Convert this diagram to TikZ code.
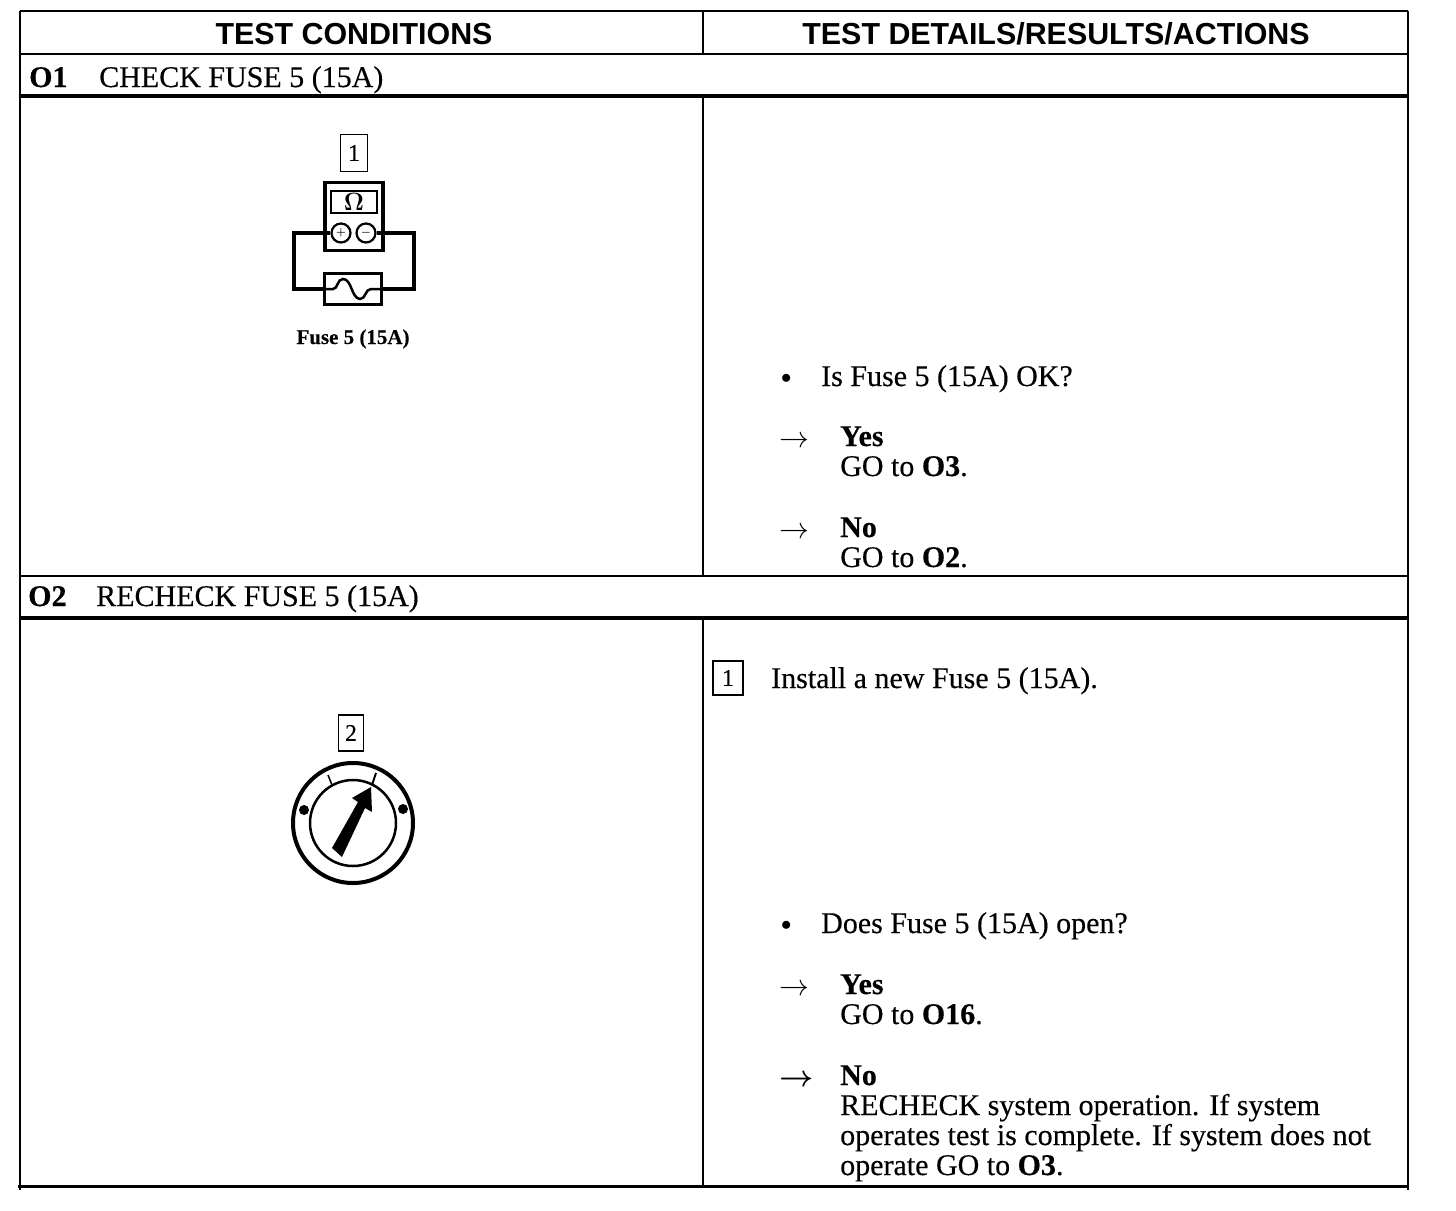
\documentclass[tikz,border=0pt]{standalone}
\usepackage{fontspec}
\setmainfont{Liberation Serif}[FakeBold = 0.3]
\newfontfamily\headfont{Liberation Sans}
\newcommand{\longpointer}{\scalebox{1.2}{$\rightarrow$}}
\tikzset{
	rule/.style = {line width = 2.5 pt},
	head/.style = {font = \headfont\bfseries\fontsize{30.4}{31}\selectfont, inner sep = 0 pt, anchor = base},
	title/.style = {font = \fontsize{30}{30}\selectfont, inner sep = 0 pt, anchor = base west},
	body/.style = {font = \fontsize{30}{30}\selectfont, inner sep = 0 pt, anchor = base west},
	pointer/.style = {font = \fontsize{34}{34}\selectfont, inner sep = 0 pt, anchor = base west},
	boldpointer/.style = {font = \fontsize{34}{34}\selectfont\boldmath, inner sep = 0 pt, anchor = base west},
	spot/.style = {font = \fontsize{20}{20}\selectfont, inner sep = 0 pt, anchor = base west},
	tag/.style = {draw, line width = 1.8 pt, inner sep = 0 pt, font = \fontsize{24}{24}\selectfont},
	small/.style = {font = \bfseries\fontsize{21}{21}\selectfont, inner sep = 0 pt, anchor = base},
	socket/.style = {draw, circle, line width = 2.2 pt, minimum size = 19 pt, inner sep = 0 pt, font = \fontsize{11}{11}\selectfont\boldmath},
	blob/.style = {circle, fill, minimum size = 10 pt, inner sep = 0 pt}
}
\begin{document}
\begin{tikzpicture}[x = 1 pt, y = -1 pt]
	 \useasboundingbox (0, 0) rectangle (1456, 1210);
	 \fill[white] (0, 0) rectangle (1456, 1210);

	 % table
	 \draw[rule] (20, 11) -- (1408, 11);
	 \draw[rule] (20, 54) -- (1408, 54);
	 \draw[rule, line width = 3.5 pt] (20, 96) -- (1408, 96);
	 \draw[rule] (20, 576) -- (1408, 576);
	 \draw[rule, line width = 3.5 pt] (20, 618) -- (1408, 618);
	 \draw[rule, line width = 3 pt] (18, 1186) -- (1408, 1186);
	 \draw[rule] (20, 11) -- (20, 1190);
	 \draw[rule] (703, 11) -- (703, 54);
	 \draw[rule] (703, 96) -- (703, 576);
	 \draw[rule] (703, 618) -- (703, 1186);
	 \draw[rule] (1408, 11) -- (1408, 1190);

	 \node[head] (headleft) at (354, 44) {TEST CONDITIONS};
	 \node[head] (headright) at (1056, 44) {TEST DETAILS/RESULTS/ACTIONS};

	 \node[title] (numone) at (29, 87) {\textbf{O1}};
	 \node[title] (titleone) at (99, 87) {CHECK FUSE 5 (15A)};
	 \node[title] (numtwo) at (28, 606) {\textbf{O2}};
	 \node[title] (titletwo) at (96, 606) {RECHECK FUSE 5 (15A)};

	 % meter and fuse
	 \node[tag, minimum width = 27 pt, minimum height = 37 pt] (tagone) at (354, 153) {1};
	 \node[draw, line width = 3.5 pt, minimum width = 58 pt, minimum height = 68 pt, inner sep = 0 pt] (meter) at (354, 216.5) {};
	 \node[draw, line width = 2.2 pt, minimum width = 46 pt, minimum height = 22 pt, inner sep = 0 pt, font = \fontsize{26}{26}\selectfont\boldmath] (dial) at (354, 202) {$\Omega$};
	 \node[socket] (plus) at (341, 233) {$+$};
	 \node[socket] (minus) at (366, 233) {$-$};
	 \node[draw, line width = 3 pt, minimum width = 57 pt, minimum height = 31 pt, inner sep = 0 pt] (fuse) at (353, 289) {};
	 \coordinate (wireleft) at (294, 233);
	 \coordinate (wireright) at (414, 233);
	 \draw[line width = 3.5 pt] (plus) -- (wireleft) |- (fuse.west);
	 \draw[line width = 3.5 pt] (minus) -- (wireright) |- (fuse.east);
	 \draw[line width = 2.5 pt] (fuse.west) -- (333, 289) .. controls (338, 289) and (337, 279) .. (343, 279) .. controls (352, 279) and (351, 298) .. (360, 299) .. controls (366, 299) and (365, 289) .. (371, 289) -- (fuse.east);
	 \node[small] (fusename) at (353, 344) {Fuse 5 (15A)};

	 % ignition switch
	 \node[tag, minimum width = 25 pt, minimum height = 36 pt] (tagtwo) at (351, 733) {2};
	 \node[draw, circle, line width = 4 pt, minimum size = 120 pt, inner sep = 0 pt] (switchouter) at (353, 823) {};
	 \node[draw, circle, line width = 2.5 pt, minimum size = 86 pt, inner sep = 0 pt] (switchinner) at (353, 823) {};
	 \fill (332, 848) -- (342, 857) -- (365, 808) -- (372, 812) -- (371, 787) -- (352, 798) -- (358, 802) -- cycle;
	 \draw[line width = 1.5 pt] (328, 775) -- (332, 785);
	 \draw[line width = 2 pt] (372, 785) -- (376, 773);
	 \node[blob] (markleft) at (304, 810) {};
	 \node[blob] (markright) at (403, 809) {};

	 % first answer
	 \node[spot] (dotone) at (781, 383) {$\bullet$};
	 \node[body] (askone) at (821, 386) {Is Fuse 5 (15A) OK?};
	 \node[pointer] (arrowone) at (779, 447) {\longpointer};
	 \node[body] (yesone) at (840, 446) {\textbf{Yes}};
	 \node[body] (goone) at (840, 476) {GO to \textbf{O3}.};
	 \node[pointer] (arrowtwo) at (779, 538) {\longpointer};
	 \node[body] (noone) at (840, 537) {\textbf{No}};
	 \node[body] (gotwo) at (840, 567) {GO to \textbf{O2}.};

	 % second answer
	 \node[tag, line width = 2.2 pt, minimum width = 30 pt, minimum height = 34 pt] (tagthree) at (728, 678) {1};
	 \node[body] (install) at (771, 688) {Install a new Fuse 5 (15A).};
	 \node[spot] (dottwo) at (781, 930) {$\bullet$};
	 \node[body] (asktwo) at (821, 933) {Does Fuse 5 (15A) open?};
	 \node[pointer] (arrowthree) at (779, 995) {\longpointer};
	 \node[body] (yestwo) at (840, 994) {\textbf{Yes}};
	 \node[body] (gothree) at (840, 1024) {GO to \textbf{O16}.};
	 \node[boldpointer] (arrowfour) at (779, 1086) {\longpointer};
	 \node[body] (notwo) at (840, 1085) {\textbf{No}};
	 \node[body] (gofour) at (840, 1115) {RECHECK system operation. If system};
	 \node[body] (gofive) at (840, 1145) {operates test is complete. If system does not};
	 \node[body] (gosix) at (840, 1175) {operate GO to \textbf{O3}.};
\end{tikzpicture}
\end{document}
